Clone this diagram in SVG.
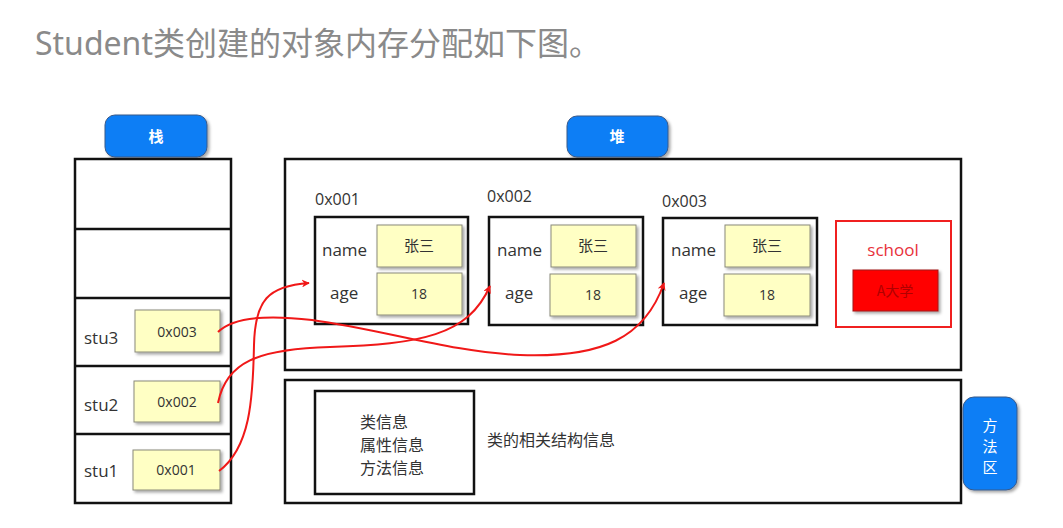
<svg xmlns="http://www.w3.org/2000/svg" width="1063" height="528" viewBox="0 0 1063 528">
<style>
.box{fill:#fff;stroke:#111;stroke-width:2.5}
.yel{fill:#ffffc4;stroke:#8a8a7a;stroke-width:1}
.btn{fill:#0a7ef5;stroke:#3a5a8a;stroke-width:1}
.t{font-family:"Open Sans","Noto Sans","Noto Sans CJK SC",sans-serif;fill:#333}
.c{font-family:"Noto Sans CJK SC",sans-serif}
.bt{font-family:"Noto Sans CJK SC",sans-serif;font-weight:bold;fill:#fff;font-size:15px;text-anchor:middle}
.arr{fill:none;stroke:#f01818;stroke-width:2}
</style>
<defs>
<filter id="sh" x="-20%" y="-20%" width="150%" height="150%">
<feDropShadow dx="2" dy="2" stdDeviation="1.5" flood-color="#000" flood-opacity="0.35"/>
</filter>
<marker id="ah" viewBox="0 0 10 10" refX="9" refY="5" markerWidth="8" markerHeight="8" orient="auto" markerUnits="userSpaceOnUse">
<path d="M0,0 L10,5 L0,10 L3,5 z" fill="#f01818"/>
</marker>
</defs>
<rect width="1063" height="528" fill="#fff"/>
<text x="35" y="55" font-size="32" fill="#8a8a8a" font-family="'Noto Sans','Noto Sans CJK SC',sans-serif">Student类创建的对象内存分配如下图。</text>

<g id="stack">
<rect class="btn" x="105" y="115" width="102" height="42" rx="10" filter="url(#sh)"/>
<text class="bt" x="156" y="142">栈</text>
<rect class="box" x="75" y="159" width="156" height="344"/>
<line x1="75" y1="229" x2="231" y2="229" stroke="#111" stroke-width="2.5"/>
<line x1="75" y1="298" x2="231" y2="298" stroke="#111" stroke-width="2.5"/>
<line x1="75" y1="366" x2="231" y2="366" stroke="#111" stroke-width="2.5"/>
<line x1="75" y1="434" x2="231" y2="434" stroke="#111" stroke-width="2.5"/>
</g>
<g id="stu3">
<text class="t" x="84" y="344" font-size="17">stu3</text>
<rect class="yel" x="135" y="310" width="85" height="42" filter="url(#sh)"/>
<text class="t" x="177" y="337" font-size="14" text-anchor="middle">0x003</text>
</g>
<g id="stu2">
<text class="t" x="84" y="411" font-size="17">stu2</text>
<rect class="yel" x="134" y="381" width="86" height="41" filter="url(#sh)"/>
<text class="t" x="177" y="407" font-size="14" text-anchor="middle">0x002</text>
</g>
<g id="stu1">
<text class="t" x="84" y="477" font-size="17">stu1</text>
<rect class="yel" x="133" y="450" width="87" height="40" filter="url(#sh)"/>
<text class="t" x="176" y="475" font-size="14" text-anchor="middle">0x001</text>
</g>

<g id="heap">
<rect class="btn" x="567" y="116" width="101" height="41" rx="10" filter="url(#sh)"/>
<text class="bt" x="617" y="142">堆</text>
<rect class="box" x="285" y="159" width="676" height="211"/>
</g>
<g id="obj1">
<text class="t" x="315" y="205" font-size="16">0x001</text>
<rect class="box" x="315" y="217" width="153" height="107"/>
<text class="t" x="322" y="256" font-size="17">name</text>
<text class="t" x="330" y="299" font-size="17">age</text>
<rect class="yel" x="377" y="225" width="85" height="42" filter="url(#sh)"/>
<text class="c" x="419" y="251" font-size="15" fill="#333" text-anchor="middle">张三</text>
<rect class="yel" x="377" y="273" width="85" height="42" filter="url(#sh)"/>
<text class="t" x="419" y="299" font-size="14" text-anchor="middle">18</text>
</g>
<g id="obj2">
<text class="t" x="487" y="202" font-size="16">0x002</text>
<rect class="box" x="489" y="217" width="154" height="108"/>
<text class="t" x="497" y="256" font-size="17">name</text>
<text class="t" x="505" y="299" font-size="17">age</text>
<rect class="yel" x="551" y="225" width="85" height="42" filter="url(#sh)"/>
<text class="c" x="593" y="251" font-size="15" fill="#333" text-anchor="middle">张三</text>
<rect class="yel" x="550" y="274" width="86" height="42" filter="url(#sh)"/>
<text class="t" x="593" y="300" font-size="14" text-anchor="middle">18</text>
</g>
<g id="obj3">
<text class="t" x="662" y="207" font-size="16">0x003</text>
<rect class="box" x="663" y="218" width="154" height="107"/>
<text class="t" x="671" y="256" font-size="17">name</text>
<text class="t" x="679" y="299" font-size="17">age</text>
<rect class="yel" x="725" y="225" width="85" height="42" filter="url(#sh)"/>
<text class="c" x="767" y="251" font-size="15" fill="#333" text-anchor="middle">张三</text>
<rect class="yel" x="724" y="274" width="86" height="42" filter="url(#sh)"/>
<text class="t" x="767" y="300" font-size="14" text-anchor="middle">18</text>
</g>
<g id="school">
<rect x="836" y="221" width="115" height="106" fill="#fff" stroke="#f02020" stroke-width="2"/>
<text class="t" x="893" y="256" font-size="17" text-anchor="middle" style="fill:#e8303a">school</text>
<rect x="853" y="270" width="85" height="41" fill="#ff0000" stroke="#a01010" stroke-width="1" filter="url(#sh)"/>
<text class="c" x="895" y="296" font-size="14" fill="#b00000" text-anchor="middle">A大学</text>
</g>

<g id="method">
<rect class="box" x="285" y="380" width="676" height="123"/>
<rect class="box" x="315" y="391" width="159" height="103"/>
<text class="c" x="360" y="428" font-size="16" fill="#333">类信息</text>
<text class="c" x="360" y="451" font-size="16" fill="#333">属性信息</text>
<text class="c" x="360" y="474" font-size="16" fill="#333">方法信息</text>
<text class="c" x="487" y="446" font-size="16" fill="#333">类的相关结构信息</text>
<rect class="btn" x="963" y="397" width="54" height="93" rx="11" filter="url(#sh)"/>
<text class="c" x="990" y="431" font-size="15" fill="#fff" text-anchor="middle">方</text>
<text class="c" x="990" y="452" font-size="15" fill="#fff" text-anchor="middle">法</text>
<text class="c" x="990" y="473" font-size="15" fill="#fff" text-anchor="middle">区</text>
</g>

<g id="connectors">
<path class="arr" d="M219,471 C250,448 253,400 254,345 C255,300 268,286 309,283" marker-end="url(#ah)"/>
<path class="arr" d="M218,403 C226,362 258,349 330,347 C420,344 468,336 490,286" marker-end="url(#ah)"/>
<path class="arr" d="M218,332 C232,318 262,314 312,320 C385,330 450,352 520,355 C602,358 645,338 664,283" marker-end="url(#ah)"/>
</g>
</svg>
